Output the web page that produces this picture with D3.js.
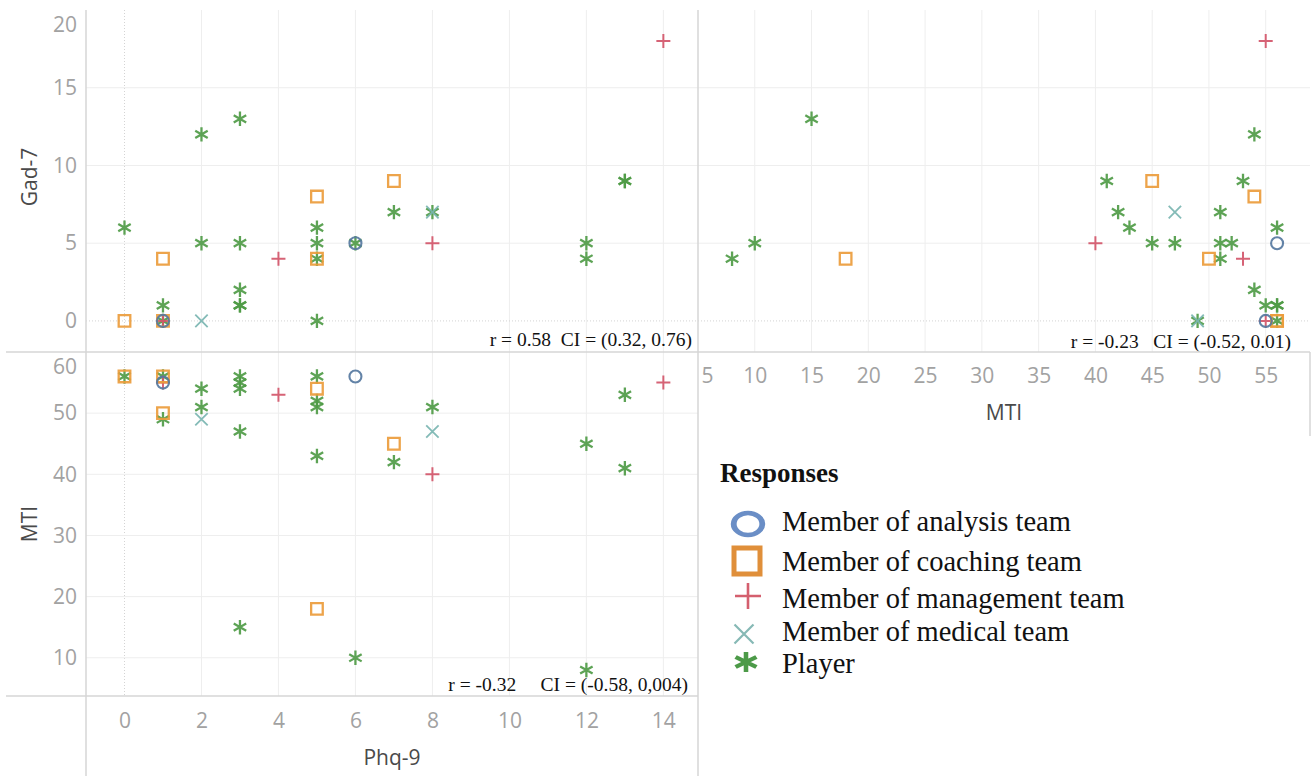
<!DOCTYPE html>
<html>
<head>
<meta charset="utf-8">
<script src="https://cdn.jsdelivr.net/npm/d3@7"></script>
<style>
    body { margin: 0; background: #fff; }
    svg { display: block; }
    .tick text { font-family: "Open Sans", sans-serif; font-size: 21px; fill: #a2a2a2; }
    .axis-title { font-family: "Open Sans", sans-serif; font-size: 21px; fill: #4a4a4a; }
    .stat { font-family: "Liberation Serif", "Times New Roman", serif; font-size: 19.5px; fill: #111; white-space: pre; }
    .legend-title { font-family: "Liberation Serif", "Times New Roman", serif; font-size: 27px; font-weight: bold; fill: #111; }
    .legend-text { font-family: "Liberation Serif", "Times New Roman", serif; font-size: 28.5px; fill: #111; }
</style>
</head>
<body>
<div id="chart"></div>
<script>
// each row is one respondent: [Phq-9, Gad-7, MTI]
const analysisTeam = [[1, 0, 55], [6, 5, 56]];
const coachingTeam = [[0, 0, 56], [1, 0, 56], [1, 4, 50], [5, 8, 54], [5, 4, 18], [7, 9, 45]];
const managementTeam = [[1, 0, 55], [4, 4, 53], [8, 5, 40], [14, 18, 55]];
const medicalTeam = [[2, 0, 49], [8, 7, 47]];
const players = [
    [0, 6, 56], [1, 1, 56], [1, 0, 49], [2, 12, 54], [2, 5, 51], [3, 13, 15], [3, 5, 47],
    [3, 2, 54], [3, 1, 55], [3, 1, 56], [5, 6, 43], [5, 5, 52], [5, 4, 51], [5, 0, 56],
    [6, 5, 10], [7, 7, 42], [8, 7, 51], [12, 5, 45], [12, 4, 8], [13, 9, 53], [13, 9, 41]
];

const roleNames = ['Member of analysis team', 'Member of coaching team', 'Member of management team',
    'Member of medical team', 'Player'];
const roleShapes = ['circle', 'square', 'plus', 'times', 'asterisk'];
const roleColors = ['#56789f', '#eb9c3c', '#d2566a', '#79b5b1', '#4f9b46'];
const legendColors = ['#6a8ec6', '#e08f3a', '#d45f6e', '#86b9b5', '#4c9a48'];
const roleRows = [analysisTeam, coachingTeam, managementTeam, medicalTeam, players];
const drawOrder = [4, 3, 2, 1, 0];

const phqTicks = [0, 2, 4, 6, 8, 10, 12, 14];
const gadTicks = [0, 5, 10, 15, 20];
const mtiTicks = [10, 20, 30, 40, 50, 60];
const mtiTicksX = [5, 10, 15, 20, 25, 30, 35, 40, 45, 50, 55];
const statLabels = ['r = 0.58  CI = (0.32, 0.76)', 'r = -0.23   CI = (-0.52, 0.01)', 'r = -0.32     CI = (-0.58, 0,004)'];

const WIDTH = 1312, HEIGHT = 776;
const LEFT = 86, MID = 698, RIGHT = 1310, TOP = 10, ROW = 352, BOTTOM = 696;
const BORDER = '#d6d6d6', GRID = '#eeeeee';

const svg = d3.select('#chart').append('svg')
    .attr('width', WIDTH)
    .attr('height', HEIGHT);

const xPhq = d3.scaleLinear().domain([-1, 14.9]).range([LEFT, MID]);
const xMti = d3.scaleLinear().domain([5, 58.9]).range([MID, RIGHT]);
const yGad = d3.scaleLinear().domain([-2, 20]).range([ROW, TOP]);
const yMti = d3.scaleLinear().domain([3.75, 60]).range([BOTTOM, ROW]);

// stroke based marks, size = half width in px
const SHAPES = {
    circle: { draw(c, r) { c.moveTo(r, 0); c.arc(0, 0, r, 0, 2 * Math.PI); } },
    square: { draw(c, r) { c.rect(-r, -r, 2 * r, 2 * r); } },
    plus: { draw(c, r) { c.moveTo(-r, 0); c.lineTo(r, 0); c.moveTo(0, -r); c.lineTo(0, r); } },
    times: { draw(c, r) { c.moveTo(-r, -r); c.lineTo(r, r); c.moveTo(-r, r); c.lineTo(r, -r); } },
    asterisk: {
        draw(c, r) {
            [90, 30, -30].forEach(a => {
                const dx = r * Math.cos(a * Math.PI / 180), dy = r * Math.sin(a * Math.PI / 180);
                c.moveTo(-dx, -dy); c.lineTo(dx, dy);
            });
        }
    }
};
const MARK_SIZE = { circle: 6, square: 5.8, plus: 7, times: 6.2, asterisk: 7.2 };
const MARK_WIDTH = { circle: 2.1, square: 2.3, plus: 2, times: 1.8, asterisk: 2.3 };

const panels = [
    { x: xPhq, y: yGad, xi: 0, yi: 1, xTicks: phqTicks, yTicks: gadTicks, box: [LEFT, TOP, MID, ROW],
      stat: { text: statLabels[0], x: 692, y: 346 } },
    { x: xMti, y: yGad, xi: 2, yi: 1, xTicks: mtiTicksX, yTicks: gadTicks, box: [MID, TOP, RIGHT, ROW],
      stat: { text: statLabels[1], x: 1291, y: 348 } },
    { x: xPhq, y: yMti, xi: 0, yi: 2, xTicks: phqTicks, yTicks: mtiTicks, box: [LEFT, ROW, MID, BOTTOM],
      stat: { text: statLabels[2], x: 688, y: 691 } }
];

panels.forEach((p, i) => {
    const [x0, y0, x1, y1] = p.box;
    const g = svg.append('g');

    g.append('clipPath').attr('id', 'clip' + i)
        .append('rect').attr('x', x0).attr('y', y0).attr('width', x1 - x0).attr('height', y1 - y0);

    // gridlines
    g.append('g').selectAll('line')
        .data(p.xTicks.filter(d => p.x(d) > x0 + 2))
        .join('line')
        .attr('x1', d => p.x(d)).attr('x2', d => p.x(d))
        .attr('y1', y0).attr('y2', y1)
        .attr('stroke', d => d === 0 ? '#d4d4d4' : GRID)
        .attr('stroke-dasharray', d => d === 0 ? '1,2' : null);
    g.append('g').selectAll('line')
        .data(p.yTicks.filter(d => p.y(d) > y0 + 2 && p.y(d) < y1 - 2))
        .join('line')
        .attr('x1', x0).attr('x2', x1)
        .attr('y1', d => p.y(d)).attr('y2', d => p.y(d))
        .attr('stroke', d => d === 0 ? '#d4d4d4' : GRID)
        .attr('stroke-dasharray', d => d === 0 ? '1,2' : null);

    // marks
    const marks = g.append('g').attr('clip-path', `url(#clip${i})`);
    drawOrder.forEach(r => {
        const shape = roleShapes[r];
        marks.append('g').selectAll('path')
            .data(roleRows[r])
            .join('path')
            .attr('d', d3.symbol().type(SHAPES[shape]).size(MARK_SIZE[shape]))
            .attr('transform', d => `translate(${p.x(d[p.xi])},${p.y(d[p.yi])})`)
            .attr('fill', 'none')
            .attr('stroke', roleColors[r])
            .attr('stroke-width', MARK_WIDTH[shape])
            .attr('opacity', 0.92);
    });

    g.append('text')
        .attr('class', 'stat')
        .attr('xml:space', 'preserve')
        .attr('x', p.stat.x).attr('y', p.stat.y)
        .attr('text-anchor', 'end')
        .text(p.stat.text);
});

// y axes on the left, top label clamped inside the pane like Tableau does
function leftAxis(scale, ticks, top) {
    const ax = svg.append('g')
        .attr('transform', `translate(${LEFT},0)`)
        .call(d3.axisLeft(scale).tickValues(ticks).tickSize(0).tickPadding(9));
    ax.select('.domain').remove();
    ax.selectAll('.tick text')
        .attr('y', d => Math.max(0, top + 15 - scale(d)));
}
leftAxis(yGad, gadTicks, TOP);
leftAxis(yMti, mtiTicks, ROW);

function bottomAxis(scale, ticks, y, left) {
    const ax = svg.append('g')
        .attr('transform', `translate(0,${y})`)
        .call(d3.axisBottom(scale).tickValues(ticks).tickSize(0));
    ax.select('.domain').remove();
    ax.selectAll('.tick text')
        .attr('y', 0).attr('dy', '0.36em')
        .attr('x', d => Math.max(0, left + 9 - scale(d)));
}
bottomAxis(xPhq, phqTicks, 720, LEFT);
bottomAxis(xMti, mtiTicksX, 375, MID);

// axis titles
svg.append('text').attr('class', 'axis-title')
    .attr('transform', 'translate(37,177) rotate(-90)')
    .attr('text-anchor', 'middle').text('Gad-7');
svg.append('text').attr('class', 'axis-title')
    .attr('transform', `translate(37,${(ROW + BOTTOM) / 2}) rotate(-90)`)
    .attr('text-anchor', 'middle').text('MTI');
svg.append('text').attr('class', 'axis-title')
    .attr('x', (LEFT + MID) / 2).attr('y', 765)
    .attr('text-anchor', 'middle').text('Phq-9');
svg.append('text').attr('class', 'axis-title')
    .attr('x', (MID + RIGHT) / 2).attr('y', 420)
    .attr('text-anchor', 'middle').text('MTI');

// pane borders
const borders = [
    [6, ROW, RIGHT, ROW],
    [6, BOTTOM, MID, BOTTOM],
    [LEFT, TOP, LEFT, HEIGHT],
    [MID, TOP, MID, HEIGHT],
    [RIGHT, ROW, RIGHT, 436]
];
svg.append('g').selectAll('line')
    .data(borders)
    .join('line')
    .attr('x1', d => d[0]).attr('y1', d => d[1])
    .attr('x2', d => d[2]).attr('y2', d => d[3])
    .attr('stroke', BORDER)
    .attr('stroke-width', 1.5);

// legend
const legend = svg.append('g').attr('transform', 'translate(720,0)');
legend.append('text').attr('class', 'legend-title')
    .attr('x', 0).attr('y', 482).text('Responses');

const legendY = [531, 571, 608, 641, 673];
const legendSym = [
    { cx: 28, cy: 524, r: 11, w: 4.5, sx: 1.3 },
    { cx: 27, cy: 561, r: 13, w: 5, sx: 1 },
    { cx: 28, cy: 596, r: 13, w: 2.6, sx: 1 },
    { cx: 24, cy: 634, r: 9.5, w: 2.2, sx: 1 },
    { cx: 26, cy: 662, r: 10, w: 3.8, sx: 1.2 }
];
const items = legend.selectAll('g.item')
    .data(roleNames)
    .join('g').attr('class', 'item');
items.append('path')
    .attr('d', (d, i) => d3.symbol().type(SHAPES[roleShapes[i]]).size(legendSym[i].r)())
    .attr('transform', (d, i) => `translate(${legendSym[i].cx},${legendSym[i].cy}) scale(${legendSym[i].sx},1)`)
    .attr('fill', 'none')
    .attr('stroke', (d, i) => legendColors[i])
    .attr('stroke-width', (d, i) => legendSym[i].w);
items.append('text').attr('class', 'legend-text')
    .attr('x', 62).attr('y', (d, i) => legendY[i])
    .text(d => d);
</script>
</body>
</html>
